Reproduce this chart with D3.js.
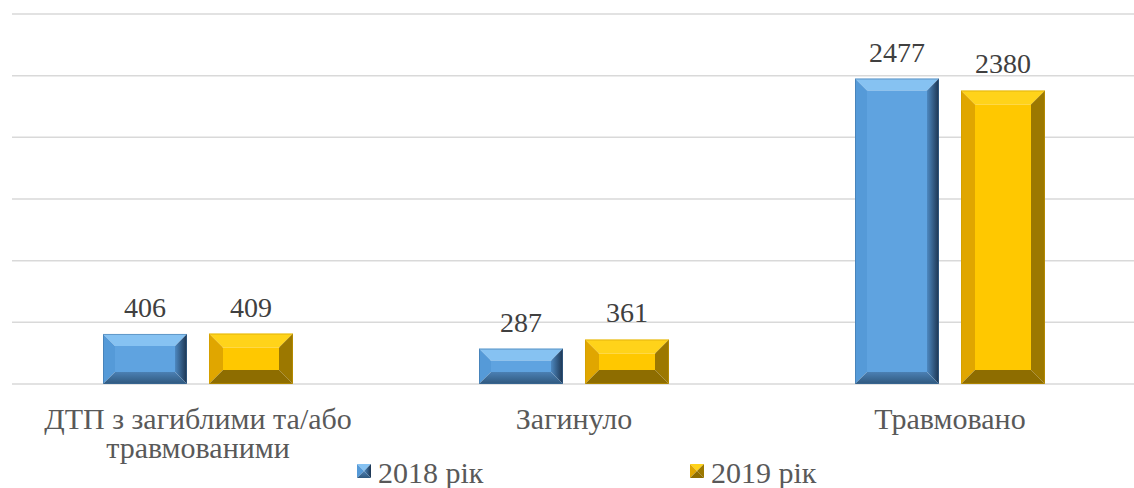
<!DOCTYPE html>
<html>
<head>
<meta charset="utf-8">
<script src="https://cdn.jsdelivr.net/npm/d3@7"></script>
<style>
    body { margin: 0; background: #fff; }
    svg { display: block; }
</style>
</head>
<body>
<div id="chart"></div>
<script>
// chart data
const categories = ["ДТП з загиблими та/або травмованими", "Загинуло", "Травмовано"];
const seriesNames = ["2018 рік", "2019 рік"];
const values2018 = [406, 287, 2477];
const values2019 = [409, 361, 2380];
const yTicks = [0, 500, 1000, 1500, 2000, 2500, 3000];

const width = 1134, height = 488;
const serif = "'Liberation Serif', 'Times New Roman', serif";

// colours for the bevelled faces of each series
const palette = [
    { front: "#5fa3e0", top: "#86c2f2", left: "#559ad8", right: "url(#blueRight)", bottom: "url(#blueBottom)", edge: "#3b6e9e", bevel: 12 },
    { front: "#ffc800", top: "#ffd31a", left: "#e0a600", right: "#9c7800", bottom: "#8e6d00", edge: "#c99a00", bevel: 14 }
];

const data = categories.map((c, i) => ({
    cat: c,
    vals: [values2018[i], values2019[i]]
}));

const svg = d3.select("#chart")
    .append("svg")
    .attr("width", width)
    .attr("height", height)
    .attr("font-family", serif);

const defs = svg.append("defs");
const gr = defs.append("linearGradient").attr("id", "blueRight")
    .attr("x1", "0").attr("x2", "1").attr("y1", "0").attr("y2", "0");
gr.append("stop").attr("offset", "0").attr("stop-color", "#4d88c0");
gr.append("stop").attr("offset", "1").attr("stop-color", "#1c3450");
const gb = defs.append("linearGradient").attr("id", "blueBottom")
    .attr("x1", "0").attr("x2", "0").attr("y1", "0").attr("y2", "1");
gb.append("stop").attr("offset", "0").attr("stop-color", "#4b80b4");
gb.append("stop").attr("offset", "1").attr("stop-color", "#2f587e");

const y = d3.scaleLinear().domain([0, 3000]).range([384, 14]);
const x = d3.scaleBand().domain(categories).range([10, 1138]);
const xs = d3.scaleBand().domain([0, 1]).range([-95, 95]).paddingInner(22 / 106);

// gridlines
svg.append("g")
    .selectAll("line")
    .data(yTicks)
    .enter()
    .append("line")
    .attr("x1", 12)
    .attr("x2", width)
    .attr("y1", d => y(d))
    .attr("y2", d => y(d))
    .attr("stroke", "#d9d9d9")
    .attr("stroke-width", 1.5);

// one bevelled bar, drawn as five faces
function bevelBar(g, x0, y0, w, h, col) {
    const b = Math.min(col.bevel, h / 2 - 1, w / 2 - 1);
    const x1 = x0 + w, y1 = y0 + h;
    const faces = [
        { fill: col.top, pts: [[x0, y0], [x1, y0], [x1 - b, y0 + b], [x0 + b, y0 + b]] },
        { fill: col.left, pts: [[x0, y0], [x0 + b, y0 + b], [x0 + b, y1 - b], [x0, y1]] },
        { fill: col.right, pts: [[x1, y0], [x1, y1], [x1 - b, y1 - b], [x1 - b, y0 + b]] },
        { fill: col.bottom, pts: [[x0, y1], [x0 + b, y1 - b], [x1 - b, y1 - b], [x1, y1]] },
        { fill: col.front, pts: [[x0 + b, y0 + b], [x1 - b, y0 + b], [x1 - b, y1 - b], [x0 + b, y1 - b]] }
    ];
    g.selectAll(null)
        .data(faces)
        .enter()
        .append("polygon")
        .attr("points", d => d.pts.map(p => p.join(",")).join(" "))
        .attr("fill", d => d.fill);
    g.append("rect")
        .attr("x", x0 + 0.5).attr("y", y0 + 0.5)
        .attr("width", w - 1).attr("height", h - 1)
        .attr("fill", "none")
        .attr("stroke", col.edge)
        .attr("stroke-opacity", 0.5)
        .attr("stroke-width", 1);
}

const groups = svg.append("g")
    .selectAll("g")
    .data(data)
    .enter()
    .append("g")
    .attr("transform", d => `translate(${x(d.cat) + x.bandwidth() / 2},0)`);

groups.each(function (d) {
    const g = d3.select(this);
    d.vals.forEach((v, s) => {
        const bx = xs(s);
        const bw = xs.bandwidth();
        bevelBar(g.append("g"), bx, y(v), bw, y(0) - y(v), palette[s]);
        g.append("text")
            .attr("x", bx + bw / 2)
            .attr("y", y(v) - 17)
            .attr("text-anchor", "middle")
            .attr("font-size", 28)
            .attr("fill", "#404040")
            .text(v);
    });
});

// category labels, wrapped like the original
const catLines = {
    "ДТП з загиблими та/або травмованими": ["ДТП з загиблими та/або", "травмованими"]
};
groups.append("text")
    .attr("text-anchor", "middle")
    .attr("font-size", 30)
    .attr("fill", "#595959")
    .each(function (d) {
        const lines = catLines[d.cat] || [d.cat];
        d3.select(this).selectAll("tspan")
            .data(lines)
            .enter()
            .append("tspan")
            .attr("x", 0)
            .attr("y", (l, i) => 429 + i * 29)
            .text(l => l);
    });

// legend
const legendX = [357, 690];
const legend = svg.append("g")
    .selectAll("g")
    .data(seriesNames)
    .enter()
    .append("g")
    .attr("transform", (d, i) => `translate(${legendX[i]},464)`);

legend.each(function (d, i) {
    const g = d3.select(this);
    const col = palette[i];
    const s = 14;
    const faces = [
        { fill: col.top, pts: [[0, 0], [s, 0], [s / 2, s / 2]] },
        { fill: col.left, pts: [[0, 0], [s / 2, s / 2], [0, s]] },
        { fill: col.right, pts: [[s, 0], [s, s], [s / 2, s / 2]] },
        { fill: col.bottom, pts: [[0, s], [s / 2, s / 2], [s, s]] }
    ];
    g.selectAll("polygon")
        .data(faces)
        .enter()
        .append("polygon")
        .attr("points", f => f.pts.map(p => p.join(",")).join(" "))
        .attr("fill", f => f.fill);
    g.append("text")
        .attr("x", 21)
        .attr("y", 19)
        .attr("font-size", 30)
        .attr("fill", "#595959")
        .text(d);
});
</script>
</body>
</html>
